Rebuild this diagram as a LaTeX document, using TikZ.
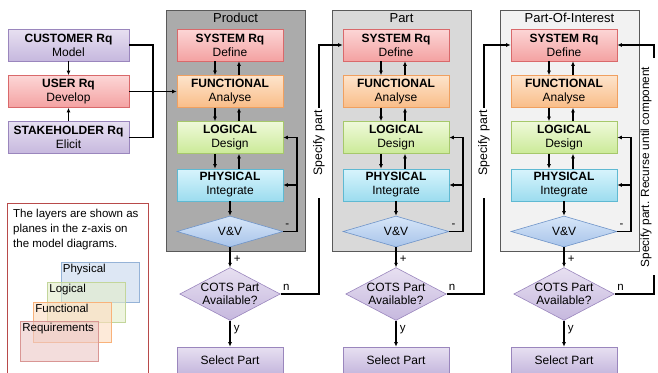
\documentclass[tikz,border=0pt]{standalone}
\usepackage{fontspec}
\setmainfont{Liberation Sans}
\usetikzlibrary{arrows.meta,shapes.geometric}

\definecolor{rqline}{HTML}{D9696B}
\definecolor{rqtop}{HTML}{FCD6D6}
\definecolor{rqbot}{HTML}{F4A2A2}
\definecolor{fnline}{HTML}{F0A060}
\definecolor{fntop}{HTML}{FDE4CC}
\definecolor{fnbot}{HTML}{F9BD88}
\definecolor{lgline}{HTML}{A6C86B}
\definecolor{lgtop}{HTML}{EFF9DA}
\definecolor{lgbot}{HTML}{CBEA98}
\definecolor{phline}{HTML}{5FB9D2}
\definecolor{phtop}{HTML}{D8F4FC}
\definecolor{phbot}{HTML}{9CDCEF}
\definecolor{puline}{HTML}{9A86BD}
\definecolor{putop}{HTML}{E7E0F1}
\definecolor{pubot}{HTML}{C6B8DE}
\definecolor{vvline}{HTML}{6F94C8}
\definecolor{vvtop}{HTML}{D7E6F8}
\definecolor{vvbot}{HTML}{A8C4EA}
\definecolor{legred}{HTML}{B84A4A}
\definecolor{lyphy}{HTML}{C6D7EC}
\definecolor{lylog}{HTML}{E3ECCA}
\definecolor{lyfun}{HTML}{FCDCBF}
\definecolor{lyreq}{HTML}{EBC6C5}
\definecolor{lyphyb}{HTML}{95B3D7}
\definecolor{lylogb}{HTML}{C3D69B}
\definecolor{lyfunb}{HTML}{F9B27A}
\definecolor{lyreqb}{HTML}{D99694}

\tikzset{
  every node/.style={font=\fontsize{11.5}{13.5}\selectfont},
  box/.style={rectangle, draw, line width=0.6pt, minimum width=106pt, minimum height=32pt, inner sep=0pt, align=center, font=\fontsize{12}{14}\selectfont},
  sysbox/.style={box, draw=rqline, top color=rqtop, bottom color=rqbot},
  funbox/.style={box, draw=fnline, top color=fntop, bottom color=fnbot},
  logbox/.style={box, draw=lgline, top color=lgtop, bottom color=lgbot},
  phybox/.style={box, draw=phline, top color=phtop, bottom color=phbot},
  custbox/.style={box, minimum width=121pt, draw=puline, top color=putop, bottom color=pubot},
  selbox/.style={box, minimum height=26pt, draw=puline, top color=putop, bottom color=pubot},
  vvdia/.style={diamond, draw=vvline, line width=0.6pt, inner sep=0pt, aspect=3.4, minimum width=106pt, minimum height=31pt, top color=vvtop, bottom color=vvbot, font=\fontsize{12}{14}\selectfont},
  cotsdia/.style={diamond, draw=puline, line width=0.6pt, inner sep=0pt, aspect=1.9, align=center, top color=putop, bottom color=pubot, font=\fontsize{12}{13.5}\selectfont},
  panel/.style={rectangle, draw=black!65, line width=0.6pt, minimum width=139pt, minimum height=241pt, inner sep=0pt},
  layer/.style={rectangle, line width=0.6pt, minimum width=78pt, minimum height=40pt, inner sep=0pt, fill opacity=0.6},
  arr/.style={-{Latex[length=4.5pt,width=4pt]}, line width=1.2pt},
  ln/.style={line width=1.2pt},
  vlabel/.style={rotate=90, fill=white, inner xsep=2pt, inner ysep=1pt, font=\fontsize{12.3}{14}\selectfont}
}

\begin{document}
\begin{tikzpicture}[x=1pt,y=-1pt]
\useasboundingbox (0,0) rectangle (658,372);

% Columns
\foreach \c/\x/\title/\shade in {1/230/Product/black!33, 2/396/Part/black!15, 3/564/Part-Of-Interest/black!5} {
  \node[panel, fill=\shade] (pan\c) at (\x+5.5,130.5) {};
  \node[font=\fontsize{13}{15}\selectfont] (tit\c) at (\x+5.5,18) {\title};
  \node[sysbox] (sys\c) at (\x,45) {\textbf{SYSTEM Rq}\\Define};
  \node[funbox] (fun\c) at (\x,91.5) {\textbf{FUNCTIONAL}\\Analyse};
  \node[logbox] (log\c) at (\x,137.5) {\textbf{LOGICAL}\\Design};
  \node[phybox] (phy\c) at (\x,185) {\textbf{PHYSICAL}\\Integrate};
  \node[vvdia] (vv\c) at (\x,231.5) {V\&V};
  \node[cotsdia] (cots\c) at (\x,294) {COTS Part\\Available?};
  \node[selbox] (sel\c) at (\x,360) {Select Part};
  % Layer arrows
  \foreach \a/\b in {sys/fun,fun/log,log/phy} {
    \draw[arr] ([xshift=-15pt]\a\c.south) -- ([xshift=-15pt]\b\c.north);
    \draw[arr] ([xshift=9pt]\b\c.north) -- ([xshift=9pt]\a\c.south);
  }
  \draw[arr] (phy\c.south) -- (vv\c.north);
  \draw[arr] (vv\c.south) -- node[right, pos=0.6] {+} (cots\c.north);
  \draw[arr] (cots\c.south) -- node[right, pos=0.35] {y} (sel\c.north);
  % Feedback
  \coordinate (fb\c) at (\x+67,137.5);
  \draw[arr] (vv\c.east) -- node[above, pos=0.3] {-} (vv\c.east -| fb\c) -- (fb\c) -- (log\c.east);
  \draw[arr] (phy\c.east -| fb\c) -- (phy\c.east);
}

% Specify part links
\coordinate (sp1) at (319,45);
\coordinate (sp2) at (484,45);
\draw[arr] (cots1.east) -- node[above, pos=0.15] {n} (cots1.east -| sp1) -- node[vlabel, pos=0.566, text width=86pt, align=right] {Specify part} (sp1) -- (sys2.west);
\draw[arr] (cots2.east) -- node[above, pos=0.15] {n} (cots2.east -| sp2) -- node[vlabel, pos=0.566, text width=86pt, align=right] {Specify part} (sp2) -- (sys3.west);

% Recurse link
\coordinate (rc1) at (654,275);
\coordinate (rc2) at (654,58);
\draw[ln] (cots3.east) -- node[above, pos=0.15] {n} (cots3.east -| rc1) -- (rc1);
\draw[arr] (rc2) |- (sys3.east);
\node[vlabel, fill=none, font=\fontsize{11.8}{14}\selectfont] (rec) at (646,167) {Specify part. Recurse until component};

% Requirement sources
\node[custbox] (cust) at (68.5,45) {\textbf{CUSTOMER Rq}\\Model};
\node[sysbox, minimum width=121pt] (user) at (68.5,91.5) {\textbf{USER Rq}\\Develop};
\node[custbox] (stake) at (68.5,137.5) {\textbf{STAKEHOLDER Rq}\\Elicit};
\draw[arr] (cust) -- (user);
\draw[arr] (stake) -- (user);
\coordinate (jn) at (153,91.5);
\draw[ln] (cust.east) -| (jn) |- (stake.east);
\draw[arr] (user) -- (fun1);

% Legend
\node[draw=legred, line width=0.6pt, minimum width=141pt, minimum height=172pt, inner sep=0pt] (leg) at (77.5,289) {};
\node[anchor=north west, align=left, inner sep=0pt, font=\fontsize{11.5}{15}\selectfont] (legtxt) at (13,209) {The layers are shown as\\planes in the z-axis on\\the model diagrams.};
\foreach \n/\nm/\x/\y/\col in {lphy/Physical/100/282/lyphy, llog/Logical/86.5/302/lylog, lfun/Functional/72.5/322/lyfun, lreq/Requirements/59.5/341.5/lyreq} {
  \node[layer, fill=\col, draw=\col b] (\n) at (\x,\y) {};
  \node[anchor=north west, inner sep=2pt] (\n t) at (\n.north west) {\nm};
}
\end{tikzpicture}
\end{document}
